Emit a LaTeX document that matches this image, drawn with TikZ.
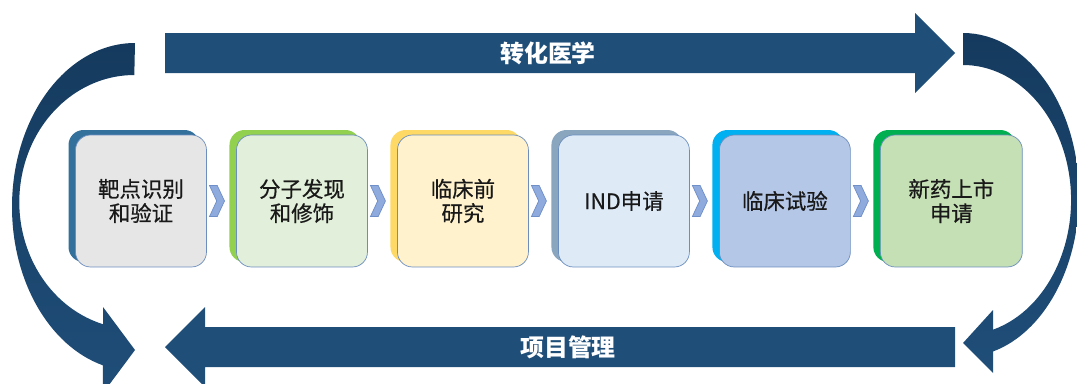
\documentclass[tikz,border=0pt]{standalone}
\usepackage{fontspec}
\newfontfamily\cjk{Noto Sans CJK SC}
\newfontfamily\cjkheavy[FakeBold=0.6]{Noto Sans CJK SC}
\usetikzlibrary{shapes.symbols,shadows}

\definecolor{navy}{HTML}{1F4E79}
\definecolor{navydark}{HTML}{153A5E}
\definecolor{boxline}{HTML}{6C8EBF}
\definecolor{chevfill}{HTML}{8FAADC}
\definecolor{chevline}{HTML}{6F8FC8}
\definecolor{backA}{HTML}{34709C}
\definecolor{frontA}{HTML}{E7E6E6}
\definecolor{backB}{HTML}{92D050}
\definecolor{frontB}{HTML}{E2EFDA}
\definecolor{backC}{HTML}{FFD966}
\definecolor{frontC}{HTML}{FFF2CC}
\definecolor{backD}{HTML}{8AA6BF}
\definecolor{frontD}{HTML}{DEEBF7}
\definecolor{backE}{HTML}{00B0F0}
\definecolor{frontE}{HTML}{B4C7E7}
\definecolor{backF}{HTML}{00B050}
\definecolor{frontF}{HTML}{C5E0B4}

\begin{document}
\begin{tikzpicture}[x=0.02cm, y=0.02cm, node distance=3.22cm,
    layer/.style={general shadow={fill=#1, shadow xshift=-0.14cm, shadow yshift=0.1cm}}]
    \tikzstyle{block} = [rectangle, draw=boxline, rounded corners=0.3cm, minimum width=2.62cm, minimum height=2.64cm, align=center, text=black!90, font=\cjkheavy\fontsize{12.2}{13.8}\selectfont]
    \tikzstyle{chev}  = [signal, signal from=west, signal to=east, signal pointer angle=130, draw=chevline, fill=chevfill, minimum width=0.3cm, minimum height=0.62cm, inner sep=0pt, node distance=1.52cm]
    \tikzstyle{band}  = [text=white, font=\cjk\bfseries\fontsize{13.6}{16}\selectfont]

    \path [use as bounding box, clip] (0,0) rectangle (1077,383);

    % Big arrows
    \fill [navy] (165,350) -- (915,350) -- (915,370) -- (955,330) -- (915,290) -- (915,310) -- (165,310) -- cycle;
    \fill [navy] (955,56) -- (205,56) -- (205,76) -- (165,36) -- (205,-4) -- (205,16) -- (955,16) -- cycle;
    \shade [top color=navydark, bottom color=navy] (135,340) arc[start angle=90, end angle=254.9, x radius=123, y radius=164]
        -- (103,-10) -- (135,33) -- (103,76) -- (103,58.8) arc[start angle=254.2, end angle=90, x radius=115, y radius=127] -- cycle;
    \shade [top color=navydark, bottom color=navy] (963,350) arc[start angle=90, end angle=-75, x radius=116, y radius=162]
        -- (993,10) -- (963,40) -- (993,73) -- (993,53.3) arc[start angle=-73.9, end angle=90, x radius=108, y radius=135] -- cycle;
    \node [band] (translate) at (548,330) {转化医学};
    \node [band] (manage) at (568,36) {项目管理};

    % Stages
    \node [block, layer=backA, fill=frontA] (target) at (141,182) {靶点识别\\和验证};
    \node [block, layer=backB, fill=frontB, right of=target] (lead) {分子发现\\和修饰};
    \node [block, layer=backC, fill=frontC, right of=lead] (preclin) {临床前\\研究};
    \node [block, layer=backD, fill=frontD, right of=preclin] (ind) {IND申请};
    \node [block, layer=backE, fill=frontE, right of=ind] (trial) {临床试验};
    \node [block, layer=backF, fill=frontF, right of=trial, minimum width=2.84cm, node distance=3.33cm] (nda) {新药上市\\申请};

    % Chevrons
    \node [chev, right of=target] (c1) {};
    \node [chev, right of=lead] (c2) {};
    \node [chev, right of=preclin] (c3) {};
    \node [chev, right of=ind] (c4) {};
    \node [chev, right of=trial] (c5) {};
\end{tikzpicture}
\end{document}
